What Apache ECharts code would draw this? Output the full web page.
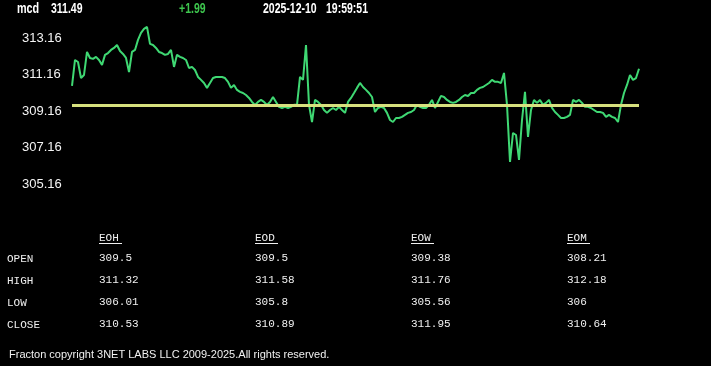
<!DOCTYPE html>
<html>
<head>
<meta charset="utf-8">
<script src="https://cdn.jsdelivr.net/npm/echarts@6/dist/echarts.min.js"></script>
<style>
html,body{margin:0;padding:0;background:#000;}
#chart{width:711px;height:366px;}
</style>
</head>
<body>
<div id="chart"></div>
<script>
// ---- data ----
const symbol = 'mcd';
const lastPrice = '311.49';
const changeText = '+1.99';
const dateText = '2025-12-10';
const timeText = '19:59:51';
const refPrice = 309.5;
const yTickLabels = [305.16, 307.16, 309.16, 311.16, 313.16];

const prices = [
  310.55, 311.97, 311.86, 310.98, 311.15, 312.41, 312.08, 312.03, 312.14, 311.97,
  311.70, 312.25, 312.35, 312.52, 312.63, 312.79, 312.46, 312.30, 312.08, 311.31,
  312.41, 312.52, 313.07, 313.45, 313.67, 313.78, 312.85, 312.79, 312.63, 312.41,
  312.35, 312.25, 312.30, 312.52, 311.59, 312.25, 312.14, 312.08, 311.97, 311.53,
  311.59, 311.42, 311.04, 310.88, 310.71, 310.44, 310.71, 310.98, 311.04, 311.04,
  311.04, 310.98, 310.77, 310.44, 310.60, 310.33, 310.22, 310.16, 310.05, 309.89,
  309.67, 309.51, 309.67, 309.78, 309.67, 309.51, 309.67, 309.94, 309.67, 309.40,
  309.34, 309.40, 309.34, 309.40, 309.51, 309.51, 311.04, 310.88, 312.79, 309.51,
  308.57, 309.78, 309.67, 309.51, 309.23, 309.07, 309.23, 309.34, 309.23, 309.40,
  309.23, 309.07, 309.67, 309.89, 310.16, 310.44, 310.71, 310.49, 310.33, 310.16,
  309.94, 309.12, 309.34, 309.40, 309.34, 309.07, 308.68, 308.57, 308.79, 308.79,
  308.85, 308.96, 309.07, 309.12, 309.23, 309.51, 309.40, 309.34, 309.34, 309.51,
  309.78, 309.34, 309.67, 310.00, 309.94, 309.78, 309.67, 309.62, 309.67, 309.78,
  309.94, 310.05, 310.00, 310.16, 310.16, 310.33, 310.44, 310.49, 310.60, 310.71,
  310.88, 310.77, 310.77, 310.71, 311.26, 309.51, 306.38, 307.97, 307.86, 306.49,
  308.68, 310.22, 307.75, 309.23, 309.78, 309.62, 309.78, 309.51, 309.62, 309.78,
  309.34, 309.12, 308.96, 308.79, 308.79, 308.85, 308.96, 309.78, 309.67, 309.78,
  309.62, 309.40, 309.40, 309.34, 309.23, 309.12, 309.12, 309.07, 308.85, 308.96,
  308.85, 308.79, 308.57, 309.51, 310.16, 310.60, 311.15, 310.88, 310.98, 311.49
];
const timeIndex = prices.map((_, i) => String(i));

const tableHeaders = ['EOH', 'EOD', 'EOW', 'EOM'];
const rowLabels = ['OPEN', 'HIGH', 'LOW', 'CLOSE'];
const colEOH = ['309.5', '311.32', '306.01', '310.53'];
const colEOD = ['309.5', '311.58', '305.8', '310.89'];
const colEOW = ['309.38', '311.76', '305.56', '311.95'];
const colEOM = ['308.21', '312.18', '306', '310.64'];
const tableColumns = [colEOH, colEOD, colEOW, colEOM];
const copyrightText = 'Fracton copyright 3NET LABS LLC 2009-2025.All rights reserved.';

// ---- chart ----
const chart = echarts.init(document.getElementById('chart'), null, {renderer: 'canvas'});

const headFont = 'bold 15px "Liberation Sans", Arial, sans-serif';
const monoFont = '11px "Liberation Mono", "DejaVu Sans Mono", monospace';
const graphics = [
  {type: 'text', x: 17, y: 9, scaleX: 0.72, style: {text: symbol, fill: '#fff', font: headFont, textVerticalAlign: 'middle'}},
  {type: 'text', x: 51, y: 9, scaleX: 0.70, style: {text: lastPrice, fill: '#fff', font: headFont, textVerticalAlign: 'middle'}},
  {type: 'text', x: 179, y: 9, scaleX: 0.70, style: {text: changeText, fill: '#3ec64e', font: headFont, textVerticalAlign: 'middle'}},
  {type: 'text', x: 263, y: 9, scaleX: 0.70, style: {text: dateText, fill: '#fff', font: headFont, textVerticalAlign: 'middle'}},
  {type: 'text', x: 326, y: 9, scaleX: 0.70, style: {text: timeText, fill: '#fff', font: headFont, textVerticalAlign: 'middle'}}
];
const colX = [99, 255, 411, 567];
const rowY = [258, 280, 302, 324];
tableHeaders.forEach((h, c) => {
  graphics.push({type: 'text', x: colX[c], y: 238, style: {text: h, fill: '#f0f0f0', font: monoFont, textVerticalAlign: 'middle'}});
  graphics.push({type: 'line', shape: {x1: colX[c], y1: 243.5, x2: colX[c] + 23, y2: 243.5}, style: {stroke: '#f0f0f0', lineWidth: 1}});
});
rowLabels.forEach((r, j) => {
  graphics.push({type: 'text', x: 7, y: rowY[j] + 1, style: {text: r, fill: '#f0f0f0', font: monoFont, textVerticalAlign: 'middle'}});
  tableColumns.forEach((col, c) => {
    graphics.push({type: 'text', x: colX[c], y: rowY[j], style: {text: col[j], fill: '#f0f0f0', font: monoFont, textVerticalAlign: 'middle'}});
  });
});
graphics.push({type: 'text', x: 9, y: 355, style: {text: copyrightText, fill: '#f0f0f0', font: '11px "Liberation Sans", Arial, sans-serif', textVerticalAlign: 'middle'}});

chart.setOption({
  backgroundColor: '#000',
  animation: false,
  grid: {left: 72, right: 72, top: 20, height: 182.5, containLabel: false},
  xAxis: {
    type: 'category', data: timeIndex, boundaryGap: false,
    show: false
  },
  yAxis: {
    type: 'value', min: 304.16, max: 314.16,
    axisLine: {show: false}, axisTick: {show: false}, splitLine: {show: false},
    axisLabel: {
      customValues: yTickLabels,
      color: '#f4f4f4', fontSize: 13, fontFamily: '"Liberation Sans", Arial, sans-serif',
      align: 'left', margin: 50,
      formatter: v => v.toFixed(2)
    }
  },
  series: [{
    type: 'line', data: prices, symbol: 'none', silent: true,
    lineStyle: {color: '#3fd873', width: 2},
    markLine: {
      silent: true, symbol: 'none', label: {show: false},
      lineStyle: {color: '#d6e07e', width: 3, type: 'solid'},
      data: [{yAxis: refPrice}]
    }
  }],
  graphic: graphics
});
</script>
</body>
</html>
